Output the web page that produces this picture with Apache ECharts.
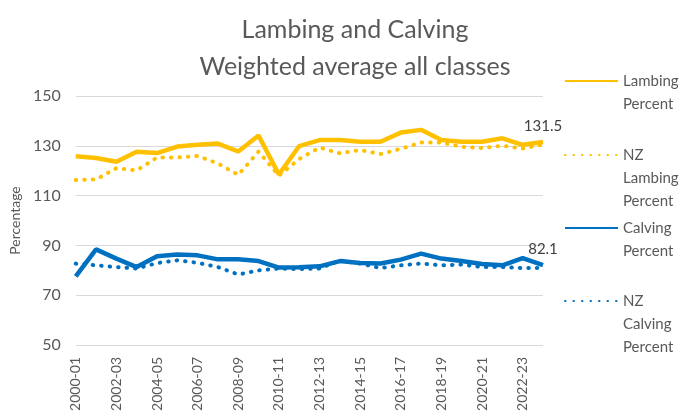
<!DOCTYPE html>
<html><head><meta charset="utf-8">
<script src="https://cdn.jsdelivr.net/npm/echarts@6/dist/echarts.min.js"></script>
<style>html,body{margin:0;padding:0;background:#fff}#c{width:686px;height:419px}</style>
</head><body><div id="c"></div>
<script>
const categories = ['2000-01','2001-02','2002-03','2003-04','2004-05','2005-06','2006-07','2007-08','2008-09','2009-10','2010-11','2011-12','2012-13','2013-14','2014-15','2015-16','2016-17','2017-18','2018-19','2019-20','2020-21','2021-22','2022-23','2023-24'];
const lambing = [125.8,125.1,123.6,127.6,127.1,129.7,130.4,130.9,127.7,134.1,118.5,129.9,132.3,132.3,131.6,131.6,135.3,136.4,132.3,131.6,131.6,133.0,130.4,131.5];
const nzLambing = [116.3,116.5,121.0,120.1,125.3,125.3,125.9,122.9,118.3,127.7,118.0,124.7,129.3,127.0,128.3,126.7,128.8,131.3,131.3,129.6,129.1,130.0,128.9,130.5];
const calving = [77.6,88.4,84.7,81.3,85.6,86.3,86.0,84.4,84.4,83.7,81.1,81.2,81.6,83.7,82.9,82.7,84.3,86.7,84.7,83.7,82.5,82.0,84.9,82.1];
const nzCalving = [82.7,82.0,81.3,80.7,82.9,84.0,83.0,81.3,78.3,80.0,80.7,80.5,80.7,84.0,82.7,80.9,82.0,82.7,82.0,82.3,81.3,81.3,80.9,81.0];
const yTicks = {min:50, max:150, interval:20};

const FONT = 'Lato, "Open Sans", sans-serif';
const GREY = '#595959';
const GOLD = '#FFC000';
const BLUE = '#0070C0';
const dots = [0.5, 8];

function lastLabel(arr){
  return arr.map((v,i)=> i===arr.length-1
    ? {value:v, symbol:'circle', symbolSize:0.1, label:{show:true, position:'top', distance:8, color:'#404040', fontSize:15, fontFamily:FONT, formatter: String(v)}}
    : v);
}

const names = ['Lambing Percent','NZ Lambing Percent','Calving Percent','NZ Calving Percent'];
const legendLinesText = {
  'Lambing Percent':['Lambing','Percent'],
  'NZ Lambing Percent':['NZ','Lambing','Percent'],
  'Calving Percent':['Calving','Percent'],
  'NZ Calving Percent':['NZ','Calving','Percent']
};
const LH = 23;
const iconCentres = [81, 155, 228, 301];

const chart = echarts.init(document.getElementById('c'), null, {renderer:'canvas'});
chart.setOption({
  animation:false,
  title:{
    text:'Lambing and Calving\nWeighted average all classes',
    left:350, top:6, textAlign:'center',
    textStyle:{fontFamily:FONT, fontSize:25, fontWeight:'normal', color:GREY, lineHeight:37}
  },
  legend: names.map((n,k)=>{
    const lines = legendLinesText[n];
    const total = 2*lines.length - 1;
    return {
      data:[n], orient:'vertical', left:564, top: iconCentres[k] - total*LH/2,
      padding:0, itemWidth:53, itemHeight:20, itemGap:0,
      itemStyle:{opacity:0},
      formatter: () => new Array(lines.length-1).fill('').concat(lines).join('\n'),
      textStyle:{fontFamily:FONT, fontSize:15, color:GREY, lineHeight:LH}
    };
  }),
  grid:{left:69, right:143, top:96, bottom:74},
  xAxis:{
    type:'category', data:categories, boundaryGap:false,
    axisLine:{show:false}, axisTick:{show:false},
    axisLabel:{rotate:90, interval:1, margin:12, fontFamily:FONT, fontSize:14, color:GREY}
  },
  yAxis:{
    type:'value', min:yTicks.min, max:yTicks.max, interval:yTicks.interval,
    name:'Percentage', nameLocation:'middle', nameGap:52,
    nameTextStyle:{fontFamily:FONT, fontSize:14, color:GREY},
    axisLabel:{fontFamily:FONT, fontSize:16, color:GREY, margin:15},
    splitLine:{lineStyle:{color:'#D9D9D9', width:1}}
  },
  series:[
    {name:names[1], type:'line', data:nzLambing, symbol:'none', lineStyle:{color:GOLD, width:4, type:dots, cap:'round'}, itemStyle:{color:GOLD}},
    {name:names[3], type:'line', data:nzCalving, symbol:'none', lineStyle:{color:BLUE, width:4, type:dots, cap:'round'}, itemStyle:{color:BLUE}},
    {name:names[0], type:'line', data:lastLabel(lambing), symbol:'none', lineStyle:{color:GOLD, width:4.5}, itemStyle:{color:GOLD}},
    {name:names[2], type:'line', data:lastLabel(calving), symbol:'none', lineStyle:{color:BLUE, width:4.5}, itemStyle:{color:BLUE}}
  ]
});
</script></body></html>
